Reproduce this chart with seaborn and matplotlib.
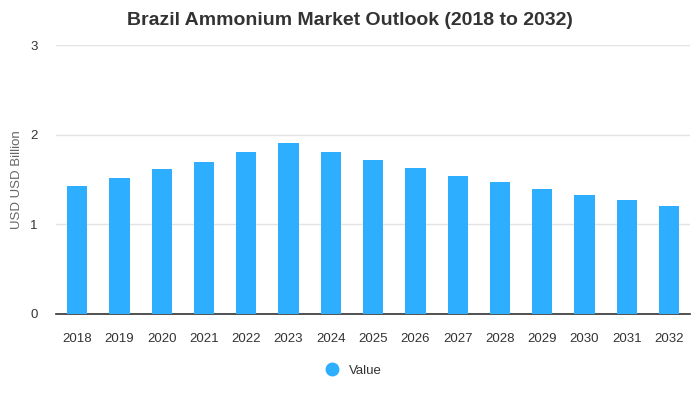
import pandas as pd
import seaborn as sns
import matplotlib.pyplot as plt
from matplotlib.lines import Line2D

# 資料
years = ["2018", "2019", "2020", "2021", "2022", "2023", "2024", "2025",
         "2026", "2027", "2028", "2029", "2030", "2031", "2032"]
values = [1.43, 1.52, 1.62, 1.70, 1.81, 1.91, 1.81, 1.72,
          1.63, 1.54, 1.47, 1.39, 1.33, 1.27, 1.21]

df = pd.DataFrame({"year": years, "Value": values})

sns.set_theme(style="white")
plt.rcParams['font.family'] = ['Liberation Sans', 'DejaVu Sans']

fig = plt.figure(figsize=(7, 4), dpi=100)
ax = fig.add_axes([0.08, 0.215, 0.906, 0.6725])

barColor = "#2daeff"
sns.barplot(data=df, x="year", y="Value", color=barColor, width=0.48,
            saturation=1, linewidth=0, ax=ax, zorder=3)

ax.set_ylim(0, 3)
ax.set_xlim(-0.5, len(years) - 0.5)
ax.set_yticks([0, 1, 2, 3])
ax.yaxis.grid(True, color="#e3e3e3", linewidth=1, zorder=0)
ax.set_axisbelow(True)
for s in ["top", "right", "left"]:
    ax.spines[s].set_visible(False)
ax.spines["bottom"].set_color("#333333")
ax.spines["bottom"].set_linewidth(1.2)
ax.tick_params(axis="both", length=0, labelsize=9.5, colors="#333333")
ax.tick_params(axis="x", pad=14)
ax.tick_params(axis="y", pad=13)

ax.set_xlabel("")
ax.set_ylabel("USD USD Billion", fontsize=9.5, color="#666666", labelpad=5)

fig.suptitle("Brazil Ammonium Market Outlook (2018 to 2032)", fontsize=14,
             fontweight="bold", color="#333333", y=0.97)

# 圖例
handle = Line2D([], [], marker="o", linestyle="", markersize=9,
                markerfacecolor=barColor, markeredgecolor=barColor)
fig.legend([handle], ["Value"], loc="center", bbox_to_anchor=(0.5, 0.074),
           frameon=False, fontsize=9.5, handletextpad=0.3,
           labelcolor="#333333")

fig.savefig("out.png", dpi=100)
